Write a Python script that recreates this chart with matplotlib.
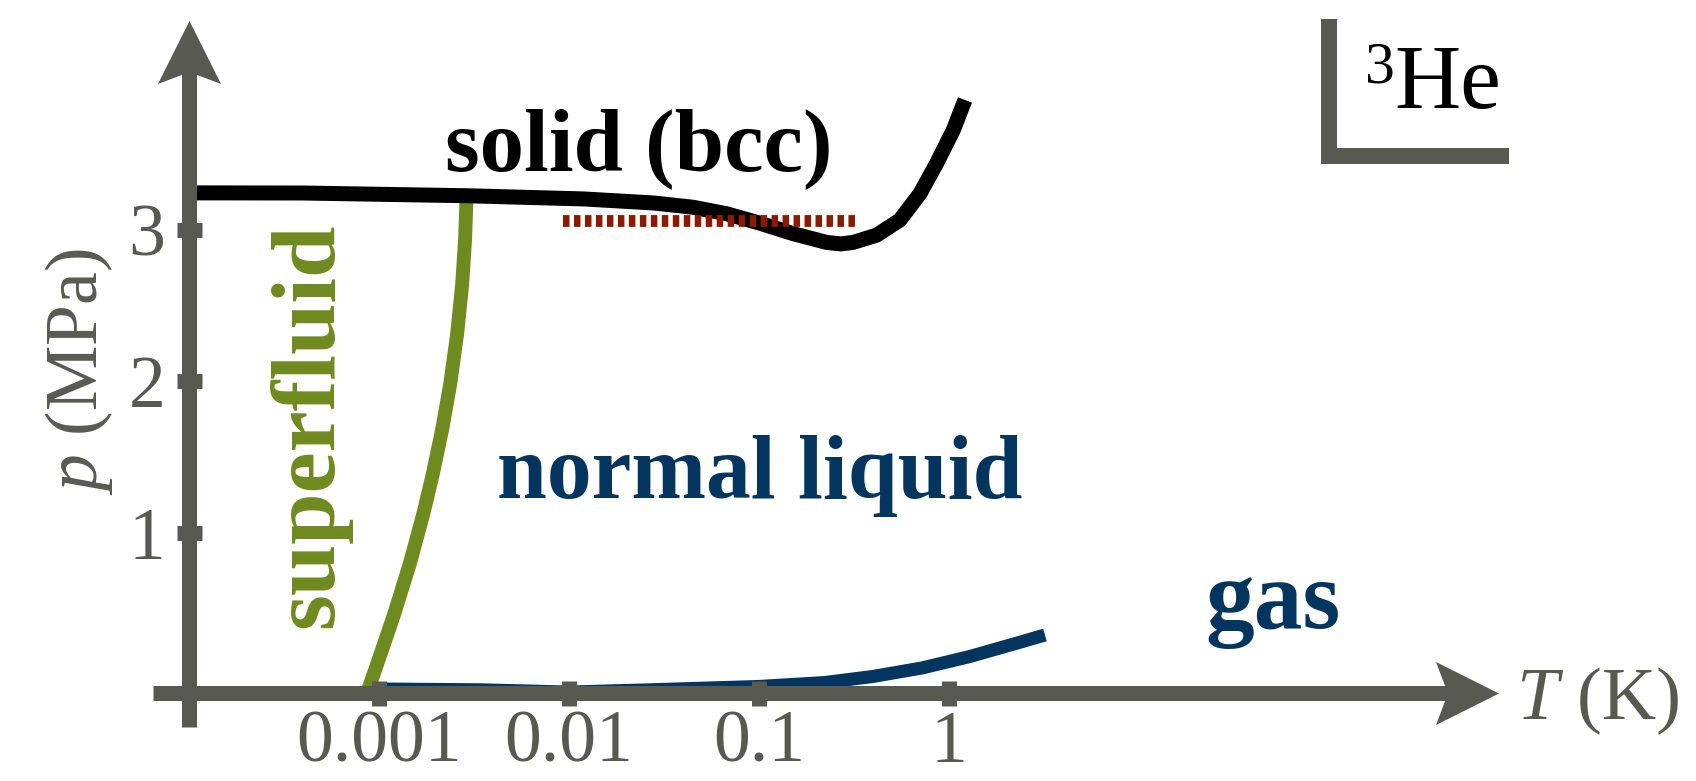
import matplotlib
matplotlib.use("Agg")
import matplotlib.pyplot as plt
from matplotlib.path import Path
from matplotlib.markers import MarkerStyle
from matplotlib.ticker import NullLocator
from matplotlib.transforms import Affine2D

plt.rcParams["font.family"] = "Liberation Serif"
plt.rcParams["mathtext.fontset"] = "custom"
plt.rcParams["mathtext.rm"] = "Liberation Serif"
plt.rcParams["mathtext.it"] = "Liberation Serif:italic"

GRAY = "#585a52"; GREEN = "#6f8a1f"; NAVY = "#04355f"; RED = "#8c1a00"

# melting curve (solid / liquid boundary), T in K, p in MPa
melt_T = [1.0e-4, 4.0e-4, 2.9e-3, 0.0119, 0.028, 0.045, 0.067, 0.101, 0.152,
          0.227, 0.27, 0.313, 0.416, 0.552, 0.705, 0.861, 1.054, 1.214]
melt_p = [3.245, 3.244, 3.226, 3.205, 3.178, 3.150, 3.108, 3.045, 2.975,
          2.918, 2.908, 2.918, 2.966, 3.066, 3.242, 3.440, 3.660, 3.858]

# superfluid transition line
sf_T = [8.65e-4, 9.14e-4, 1.050e-3, 1.207e-3, 1.456e-3, 1.715e-3, 1.914e-3,
        2.147e-3, 2.365e-3, 2.574e-3, 2.737e-3, 2.837e-3, 2.89e-3]
sf_p = [-0.056, 0.030, 0.248, 0.472, 0.802, 1.132, 1.383,
        1.680, 1.977, 2.307, 2.637, 2.934, 3.224]

# liquid / gas (vapour pressure) line
vap_T = [1.08e-3, 3.4e-3, 0.01, 0.0267, 0.0489, 0.1, 0.2225, 0.398, 0.721, 1.29, 2.335, 3.2]
vap_p = [-0.03, -0.035, -0.05, -0.035, -0.025, -0.013, 0.013, 0.053, 0.109, 0.185, 0.277, 0.327]

# dotted reference level
ref_T = [0.0093, 0.324]
ref_p = [3.059, 3.059]

xtick_T = [1e-3, 1e-2, 1e-1, 1]
xtick_lab = ["0.001", "0.01", "0.1", "1"]
ytick_p = [1, 2, 3]
ytick_lab = ["1", "2", "3"]

T_AX, P_AX = 1e-4, -0.056          # where the two axes cross

fig = plt.figure(figsize=(16.96, 7.81), dpi=100)
ax = fig.add_axes([0, 0, 1, 1])
ax.set_xscale("log")
ax.set_xlim(10**-4.995, 10**3.932)
ax.set_ylim(-0.637, 4.518)
ax.set_axisbelow(False)
for s in ax.spines.values():
    s.set_visible(False)
ax.spines["bottom"].set_position(("data", P_AX))
ax.spines["left"].set_position(("data", T_AX))

ax.plot(vap_T, vap_p, color=NAVY, lw=9.4, solid_capstyle="butt", solid_joinstyle="round", zorder=2)
ax.plot(sf_T, sf_p, color=GREEN, lw=10.0, solid_capstyle="butt", solid_joinstyle="round", zorder=2)
ax.plot(melt_T, melt_p, color="black", lw=10.8, solid_capstyle="butt", solid_joinstyle="round",
        zorder=2.2)
ax.plot(ref_T, ref_p, color=RED, lw=8.5, ls=(0, (0.55, 0.38)), dash_capstyle="butt", zorder=2.3)

# axes with stealth arrow heads
ax.plot([T_AX, T_AX], [-0.28, 4.17], color=GRAY, lw=10.8, solid_capstyle="butt", zorder=3)
ax.plot([6.5e-5, 530], [P_AX, P_AX], color=GRAY, lw=10.8, solid_capstyle="butt", zorder=3)
head = Path([(0, 1), (1, -1), (0, -0.62), (-1, -1), (0, 1)],
            [Path.MOVETO, Path.LINETO, Path.LINETO, Path.LINETO, Path.CLOSEPOLY])
ax.plot([T_AX], [4.176], marker=MarkerStyle(head), ms=45.4, color=GRAY, mew=0, zorder=3)
ax.plot([530], [P_AX], marker=MarkerStyle(head, transform=Affine2D().rotate_deg(-90)),
        ms=45.4, color=GRAY, mew=0, zorder=3)

ax.set_xticks(xtick_T, labels=xtick_lab)
ax.set_yticks(ytick_p, labels=ytick_lab)
ax.xaxis.set_minor_locator(NullLocator())
ax.tick_params(direction="inout", length=18, width=10.8, color=GRAY, labelcolor=GRAY,
               labelsize=53)
ax.tick_params(axis="x", pad=3.5)
ax.tick_params(axis="y", pad=8)

ax.text(10**-4.579, 2.063, r"$p$ (MPa)", rotation=90, ha="center", va="center",
        fontsize=53, color=GRAY)
ax.text(10**2.984, -0.228, r"$T$ (K)", ha="left", va="baseline", fontsize=54, color=GRAY)

ax.text(10**-1.632, 3.396, "solid (bcc)", ha="center", va="baseline", fontsize=64,
        fontweight="bold", color="black")
ax.text(10**-0.995, 1.231, "normal liquid", ha="center", va="baseline", fontsize=64.5,
        fontweight="bold", color=NAVY)
ax.text(10**1.705, 0.373, "gas", ha="center", va="baseline", fontsize=70,
        fontweight="bold", color=NAVY)
ax.text(10**-3.247, 1.713, "superfluid", rotation=90, rotation_mode="anchor",
        ha="center", va="baseline", fontsize=66.5, fontweight="bold", color=GREEN)

# corner mark with isotope label
ax.plot([10**2.947, 10**2.0, 10**2.0], [3.488, 3.488, 4.393], color=GRAY, lw=11.5,
        solid_capstyle="butt", solid_joinstyle="miter", zorder=3)
ax.text(10**2.347, 3.975, "3", ha="right", va="baseline", fontsize=43, color="black")
ax.text(10**2.347, 3.805, "He", ha="left", va="baseline", fontsize=66, color="black")

fig.savefig("out.png", dpi=100)
